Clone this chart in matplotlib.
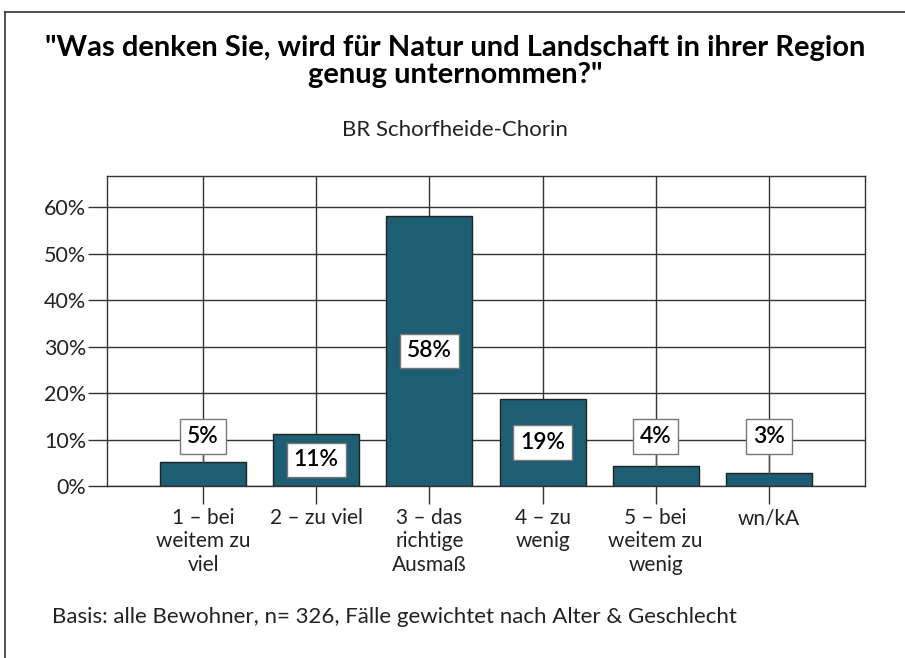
import matplotlib.pyplot as plt
from matplotlib.lines import Line2D
import numpy as np

plt.rcParams['font.family'] = ['Lato', 'DejaVu Sans']

categories = ["1 – bei\nweitem zu\nviel", "2 – zu viel", "3 – das\nrichtige\nAusmaß",
              "4 – zu\nwenig", "5 – bei\nweitem zu\nwenig", "wn/kA"]
values = [5.2, 11.2, 58.1, 18.7, 4.3, 2.8]
yticks = [0, 10, 20, 30, 40, 50, 60]

title = '"Was denken Sie, wird für Natur und Landschaft in ihrer Region\ngenug unternommen?"'
subtitle = "BR Schorfheide-Chorin"
footer = "Basis: alle Bewohner, n= 326, Fälle gewichtet nach Alter & Geschlecht"

bar_color = "#1d5e73"

fig = plt.figure(figsize=(9.05, 6.58), dpi=100)
ax = fig.add_axes([0.1182, 0.2614, 0.8376, 0.4711])

x = np.arange(len(categories))
ax.set_axisbelow(True)
ax.bar(x, values, width=0.76, color=bar_color, edgecolor="#222222", linewidth=1.0, zorder=2)

ax.set_xlim(-0.85, len(categories) - 0.15)
ax.set_ylim(0, 66.7)
ax.set_yticks(yticks)
ax.set_yticklabels([f"{t}%" for t in yticks], fontsize=15.5, color="#222222")
ax.set_xticks(x)
ax.set_xticklabels(categories, fontsize=15, color="#222222", linespacing=1.2)
ax.tick_params(axis='y', length=14, width=1, color="#333333", pad=1)
ax.tick_params(axis='x', length=13, width=1, color="#333333", pad=3)
ax.grid(True, color="#333333", linewidth=1.0)
for s in ax.spines.values():
    s.set_color("#333333")
    s.set_linewidth(1.0)

box = dict(boxstyle="square,pad=0.3", facecolor="white", edgecolor="#777777", linewidth=1.0)
for xi, v in zip(x, values):
    label = f"{round(v)}%"
    if v >= 10:
        ax.text(xi, v / 2, label, ha="center", va="center", fontsize=16.5,
                fontweight="semibold", bbox=box, zorder=4)
    else:
        ypos = 10.6
        ax.plot([xi, xi], [v, ypos], color="#555555", linewidth=1.0, zorder=3)
        ax.text(xi, ypos, label, ha="center", va="center", fontsize=16.5,
                fontweight="semibold", bbox=box, zorder=4)

fig.text(0.503, 0.907, title, ha="center", va="center", fontsize=21,
         fontweight="bold", linespacing=1.05)
fig.text(0.503, 0.802, subtitle, ha="center", va="center", fontsize=16, color="#222222")
fig.text(0.057, 0.062, footer, ha="left", va="center", fontsize=16, color="#222222")

# figure frame (top and left edges)
fig.add_artist(Line2D([5 / 905, 1.0], [1 - 12 / 658, 1 - 12 / 658], color="#333333", linewidth=1.2))
fig.add_artist(Line2D([5 / 905, 5 / 905], [0, 1 - 12 / 658], color="#333333", linewidth=1.2))

fig.savefig("out.png", dpi=100)
